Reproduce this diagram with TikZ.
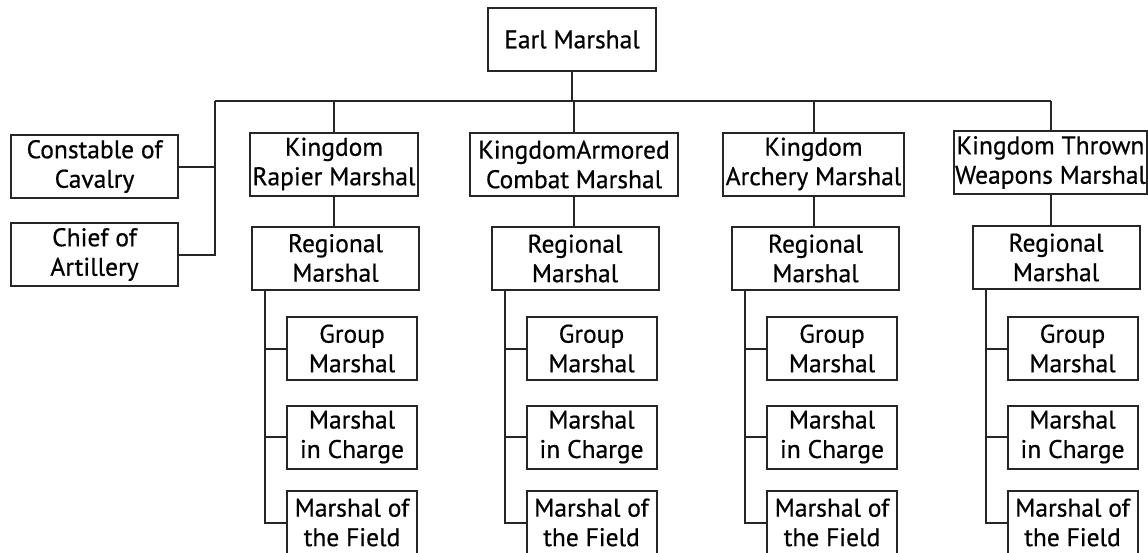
\documentclass[tikz,border=0pt]{standalone}
\usepackage{fontspec}
\setmainfont{PT Sans}[FakeBold=0.6]
\begin{document}
\begin{tikzpicture}[x=1pt,y=-1pt,
    box/.style={draw=black!85,line width=2pt,align=center,inner sep=0pt,minimum height=63pt,
      font=\fontsize{25.5}{29.5}\selectfont},
    subbox/.style={box,minimum width=130pt},
    link/.style={draw=black!85,line width=2pt}]
\useasboundingbox[fill=white] (0,0) rectangle (1148,552);

\node[box,minimum width=168pt] (earl) at (572,39.5) {Earl Marshal};

\node[box,minimum width=167pt] (constable) at (94.5,166.5) {Constable of\\Cavalry};
\node[box,minimum width=167pt] (chief) at (94.5,254.5) {Chief of\\Artillery};

\node[box,minimum width=168pt] (rap) at (334,164) {Kingdom\\Rapier Marshal};
\node[box,minimum width=208pt] (arm) at (574,164.5) {KingdomArmored\\Combat Marshal};
\node[box,minimum width=181pt] (arc) at (813.5,164) {Kingdom\\Archery Marshal};
\node[box,minimum width=193pt] (thr) at (1050.5,162.5) {Kingdom Thrown\\Weapons Marshal};

\node[box,minimum width=167pt] (rap-reg) at (335.5,258) {Regional\\Marshal};
\node[box,minimum width=167pt] (arm-reg) at (575,258.5) {Regional\\Marshal};
\node[box,minimum width=167pt] (arc-reg) at (815.5,258.5) {Regional\\Marshal};
\node[box,minimum width=167pt] (thr-reg) at (1056,257.5) {Regional\\Marshal};

% top bus
\coordinate (busL) at (215,101);
\coordinate (busR) at (thr.north |- busL);
\draw[link] (busL) -- (busR);
\draw[link] (earl) -- (earl |- busL);
\draw[link] (busL) |- (chief.east);
\draw[link] (constable.east) -- (constable.east -| busL);

\foreach \c in {rap,arm,arc,thr}{
  \draw[link] (\c.north) -- (\c.north |- busL);
  \draw[link] (\c.south) -- (\c.south |- \c-reg.north);
  \path ([xshift=14pt]\c-reg.south west) coordinate (\c-br)
        ([xshift=101pt]\c-reg.west) coordinate (\c-sx);
  \node[subbox] (\c-grp) at (\c-sx |- 0,348.5) {Group\\Marshal};
  \node[subbox] (\c-chg) at (\c-sx |- 0,437) {Marshal\\in Charge};
  \node[subbox] (\c-fld) at (\c-sx |- 0,522.5) {Marshal of\\the Field};
  \draw[link] (\c-br) |- (\c-fld.west);
  \draw[link] (\c-grp.west) -- (\c-grp.west -| \c-br);
  \draw[link] (\c-chg.west) -- (\c-chg.west -| \c-br);
}
\end{tikzpicture}
\end{document}
